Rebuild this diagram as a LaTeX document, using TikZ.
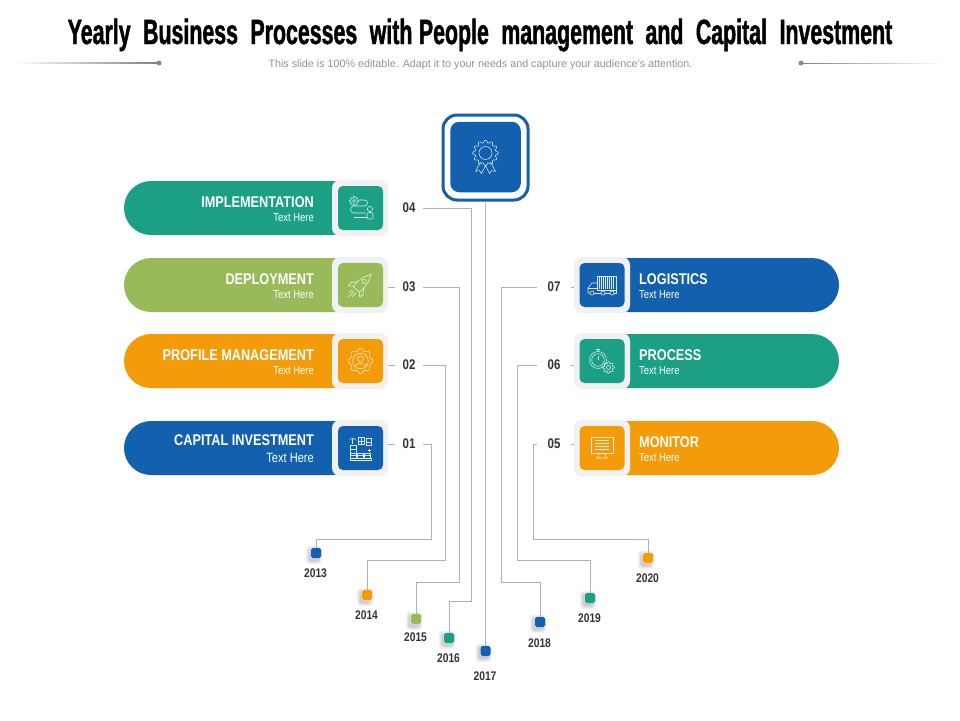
\documentclass[tikz,border=0pt]{standalone}
\usepackage{fontspec}
\usepackage{amsmath}
\usetikzlibrary{calc, positioning}
\setmainfont{Liberation Sans}
\newfontfamily\titlefont[FakeStretch=0.61,FakeBold=1.2,WordSpace=2.1]{Liberation Sans}
\newfontfamily\condfont[FakeStretch=0.82]{Liberation Sans}
\definecolor{tealc}{HTML}{1B9F85}
\definecolor{greenc}{HTML}{98BA58}
\definecolor{orangec}{HTML}{F49B09}
\definecolor{bluec}{HTML}{1260AE}
\definecolor{linec}{HTML}{B0B0B0}
\definecolor{framec}{HTML}{F1F1F3}
\definecolor{labelc}{HTML}{333333}
\newcommand{\cogwheel}[5]{\draw[shift={(#1,#2)}] plot[domain=0:360,samples=97,smooth] (\x:{#3+#4*cos(#5*\x)});}
\tikzset{
    pill/.style={minimum height=54pt, rounded corners=27pt, inner sep=0pt, outer sep=0pt},
    framebox/.style={fill=framec, minimum size=56pt, rounded corners=8pt, inner sep=0pt, outer sep=0pt},
    iconbox/.style={minimum width=45pt, minimum height=44pt, rounded corners=5pt, inner sep=0pt},
    heading/.style={text=white, inner sep=0pt, font=\condfont\bfseries\fontsize{15.5}{16}\selectfont},
    subtext/.style={text=white, inner sep=0pt, font=\condfont\fontsize{11.5}{12}\selectfont},
    numlabel/.style={text=labelc, inner sep=0pt, font=\condfont\bfseries\fontsize{14}{15}\selectfont},
    yearlabel/.style={text=labelc, inner sep=0pt, font=\condfont\bfseries\fontsize{12.5}{13}\selectfont},
    marker/.style={minimum size=10.5pt, rounded corners=1.5pt, inner sep=0pt, draw=white, line width=.4pt},
    wire/.style={draw=linec, line width=.8pt},
    iconline/.style={draw=white, draw opacity=.85, line width=.55pt, line join=round},
    badgeicon/.pic={
        \cogwheel{0}{-4}{11.5}{1.4}{12}
        \draw (0,-4) circle (6.5);
        \draw (-5,5) -- (-10,14.5) -- (-6,13.5) -- (-4,16.5) -- (0,8.5) -- (4,16.5) -- (6,13.5) -- (10,14.5) -- (5,5);
    },
    implicon/.pic={
        \cogwheel{-6.5}{-7}{3.8}{.8}{8}
        \draw (-6.5,-7) circle (1.5);
        \draw (-1.5,-8) -- (4,-8) .. controls (8,-8) and (8,-2) .. (4,-2) -- (-7,-2) .. controls (-11,-2) and (-11,5) .. (-7,5) -- (5,5);
        \draw (9.5,1) circle (2.6);
        \draw[rounded corners=2pt] (6.5,11) rectangle (12.5,4.5);
        \draw (-7,9) -- (6,9);
    },
    rocketicon/.pic={
        \begin{scope}[rotate=-45]
            \draw (-4,6) .. controls (-6,-4) and (-2,-11) .. (0,-15) .. controls (2,-11) and (6,-4) .. (4,6) -- cycle;
            \draw (0,-5) circle (2.2);
            \draw (-4.5,0) -- (-8.5,5) -- (-8,9) -- (-3.8,6);
            \draw (4.5,0) -- (8.5,5) -- (8,9) -- (3.8,6);
            \draw (-2.5,9) -- (-2.5,14);
            \draw (0,9) -- (0,17);
            \draw (2.5,9) -- (2.5,14);
        \end{scope}
    },
    profileicon/.pic={
        \cogwheel{0}{0}{11.3}{1.2}{8}
        \draw (0,0) circle (7.8);
        \draw (0,-2.2) circle (3);
        \draw (-5.5,5.5) .. controls (-5,1.5) and (5,1.5) .. (5.5,5.5);
    },
    capitalicon/.pic={
        \begin{scope}[scale=.86]
        \draw (-12,12) rectangle (13,14);
        \foreach \cx in {-12,-4,4} {
            \draw (\cx,12) rectangle ++(7,-6);
            \draw (\cx,9) -- ++(7,0);
        }
        \draw (-12,6) -- (-12,-3) -- (-5,-3) -- (-5,6);
        \draw (-12,1) -- (-5,1);
        \draw (-3,-12) rectangle (4,-4);
        \draw (-3,-8) -- (4,-8);
        \draw (.5,-12) -- (.5,-4);
        \draw (-13,-10) .. controls (-10,-12) and (-8,-12) .. (-5,-9);
        \draw (-9,-11) -- (-9,-5);
        \draw (6,-11) -- (13,-11) (7,-11) -- (7,-3) (12,-11) -- (12,-3) (6,-3) -- (13,-3);
        \draw (7,-7) -- (12,-7);
        \draw (9,3) -- (12,3) (10.5,1.5) -- (10.5,4.5);
        \end{scope}
    },
    truckicon/.pic={
        \draw (-5,-9) rectangle (14,5);
        \foreach \sx in {-3,-1,...,12} {\draw[line width=.4pt] (\sx,-8) -- (\sx,4);}
        \draw (-5,-2) -- (-10,-2) -- (-14,3) -- (-14,8) -- (-12,8);
        \draw (-8,8) -- (-1,8) (3,8) -- (8,8) (12,8) -- (14,8) -- (14,5);
        \draw (-14,3) -- (-5,3);
        \draw (-10,8) circle (2.1);
        \draw (1,8) circle (2.1);
        \draw (10,8) circle (2.1);
    },
    processicon/.pic={
        \draw (-4,-1) circle (8.5);
        \draw (-4,-1) circle (6.3);
        \draw (-6,-11.5) -- (-2,-11.5);
        \draw (-4,-11.5) -- (-4,-9.5);
        \draw (-4,-1) -- (-4,-5);
        \cogwheel{6.5}{6.5}{5}{.9}{8}
        \draw (6.5,6.5) circle (2.2);
    },
    monitoricon/.pic={
        \draw (-11,-11) rectangle (11,5);
        \foreach \ly in {-8,-5,-2,1} {\draw (-7,\ly) -- (7,\ly);}
        \draw (-3,5) -- (-4,10) (3,5) -- (4,10) (-6,10) -- (6,10);
    },
}
\begin{document}
\begin{tikzpicture}[x=1pt, y=-1pt]
    \fill[white] (0,0) rectangle (960,720);
    \useasboundingbox (0,0) rectangle (960,720);

    % title
    \node[anchor=base, inner sep=0pt] (title) at (480,44) {\titlefont\bfseries\fontsize{35}{36}\selectfont Yearly Business Processes with\hspace{-6pt} People management and Capital Investment};
    \node[anchor=base, inner sep=0pt, text=gray!85] (subtitle) at (480.5,67) {\fontsize{10.75}{12}\selectfont This slide is 100\% editable. Adapt it to your needs and capture your audience's attention.};
    \node[circle, fill=gray!90, minimum size=5pt, inner sep=0pt] (dotl) at (159,63) {};
    \node[circle, fill=gray!90, minimum size=5pt, inner sep=0pt] (dotr) at (801,63) {};
    \shade[left color=white, right color=gray] (15,62.6) rectangle (dotl.center);
    \shade[left color=gray, right color=white] (dotr.center) rectangle (945,63.6);

    % left bars
    \foreach \nm/\yy/\col in {04/208/tealc, 03/285/greenc, 02/361/orangec, 01/448/bluec} {
        \node[pill, fill=\col, minimum width=236pt] (bar\nm) at (242,\yy) {};
        \node[framebox] (frame\nm) at (360,\yy) {};
        \node[iconbox, fill=\col] (icon\nm) at (360.5,\yy) {};
    }
    \node[heading, anchor=base east] (head04) at (314,207.3) {IMPLEMENTATION};
    \node[subtext, anchor=base east] (sub04) at (314,221) {Text Here};
    \node[heading, anchor=base east] (head03) at (314,284.3) {DEPLOYMENT};
    \node[subtext, anchor=base east] (sub03) at (314,298) {Text Here};
    \node[heading, anchor=base east] (head02) at (314,360) {PROFILE MANAGEMENT};
    \node[subtext, anchor=base east] (sub02) at (314,374.3) {Text Here};
    \node[heading, anchor=base east] (head01) at (314,445) {CAPITAL INVESTMENT};
    \node[subtext, anchor=base east, font=\condfont\fontsize{13.5}{14}\selectfont] (sub01) at (314,462) {Text Here};

    % right bars
    \foreach \nm/\yy/\col in {07/285/bluec, 06/361/tealc, 05/448/orangec} {
        \node[pill, fill=\col, minimum width=239pt] (bar\nm) at (719.5,\yy) {};
        \node[framebox] (frame\nm) at (602,\yy) {};
        \node[iconbox, fill=\col] (icon\nm) at (602,\yy) {};
    }
    \node[heading, anchor=base west] (head07) at (639,284) {LOGISTICS};
    \node[subtext, anchor=base west] (sub07) at (639,298) {Text Here};
    \node[heading, anchor=base west] (head06) at (639,360) {PROCESS};
    \node[subtext, anchor=base west] (sub06) at (639,374) {Text Here};
    \node[heading, anchor=base west] (head05) at (639,447) {MONITOR};
    \node[subtext, anchor=base west] (sub05) at (639,461) {Text Here};

    % top box
    \node[draw=bluec, line width=3pt, fill=white, minimum size=85pt, rounded corners=14pt, inner sep=0pt] (topframe) at (485.5,157.5) {};
    \node[fill=bluec, minimum size=70.5pt, rounded corners=9pt, inner sep=0pt] (topicon) at (485.5,157) {};

    % icons
    \pic[iconline] at (topicon) {badgeicon};
    \pic[iconline] at (icon04) {implicon};
    \pic[iconline] at (icon03) {rocketicon};
    \pic[iconline] at (icon02) {profileicon};
    \pic[iconline] at (icon01) {capitalicon};
    \pic[iconline] at (icon07) {truckicon};
    \pic[iconline] at (icon06) {processicon};
    \pic[iconline] at (icon05) {monitoricon};

    % number labels
    \foreach \nm/\yy in {04/208, 03/287, 02/365, 01/444} {
        \node[numlabel, minimum width=28pt] (num\nm) at (409,\yy) {\nm};
    }
    \foreach \nm/\yy in {07/287, 06/365, 05/444} {
        \node[numlabel, minimum width=34pt] (num\nm) at (554,\yy) {\nm};
    }

    % year markers
    \foreach \yr/\xx/\yy/\col/\ly in {2013/316/553/bluec/573, 2014/367/595/orangec/615, 2015/416/619/greenc/637, 2016/449/638/tealc/658, 2018/540/622/bluec/643, 2019/590/598/tealc/618, 2020/648/558/orangec/578, 2017/485.5/651/bluec/676} {
        \foreach \rr in {1,2,3,4} {
            \fill[black, opacity=.05, rounded corners=3pt, shift={(\xx,\yy)}] (-6-\rr,-3-\rr) rectangle (2+\rr,7+\rr);
        }
        \node[marker, fill=\col] (mark\yr) at (\xx,\yy) {};
        \node[yearlabel] (year\yr) at (\xx-.5,\ly) {\yr};
    }

    % bends
    \coordinate (bend01) at (431,539);
    \coordinate (bend02) at (445,560);
    \coordinate (bend03) at (459,582);
    \coordinate (bend04) at (471,601);
    \coordinate (bend07) at (501,582);
    \coordinate (bend06) at (517,560);
    \coordinate (bend05) at (533,539);

    % connectors
    \draw[wire] (num01) -| (bend01) -| (mark2013);
    \draw[wire] (num02) -| (bend02) -| (mark2014);
    \draw[wire] (num03) -| (bend03) -| (mark2015);
    \draw[wire] (num04) -| (bend04) -| (mark2016);
    \draw[wire] (topframe) -- (mark2017);
    \draw[wire] (num07) -| (bend07) -| (mark2018);
    \draw[wire] (num06) -| (bend06) -| (mark2019);
    \draw[wire] (num05) -| (bend05) -| (mark2020);
    \foreach \nm in {03,02,01} {
        \draw[wire] (frame\nm.east |- num\nm) -- (num\nm);
    }
    \foreach \nm in {07,06,05} {
        \draw[wire] (frame\nm.west |- num\nm) -- (num\nm);
    }
\end{tikzpicture}
\end{document}
